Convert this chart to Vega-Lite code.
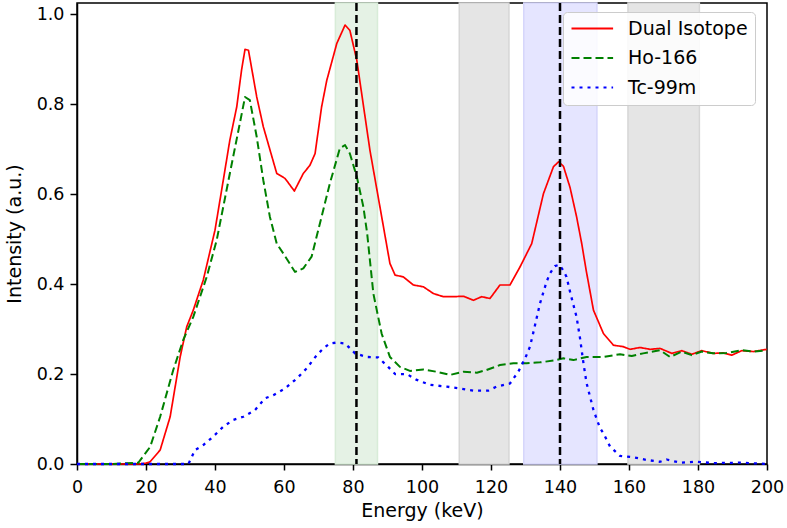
{
  "$schema": "https://vega.github.io/schema/vega-lite/v6.json",
  "width": 690,
  "height": 461,
  "autosize": {"type": "none"},
  "padding": {"left": 77, "top": 3, "right": 20, "bottom": 64},
  "background": "white",
  "config": {
    "font": "DejaVu Sans",
    "view": {"stroke": "black", "strokeWidth": 1.5},
    "axis": {
      "grid": false,
      "domainColor": "black",
      "domainWidth": 1.5,
      "tickColor": "black",
      "tickWidth": 1.5,
      "labelColor": "black",
      "titleColor": "black",
      "labelFontSize": 17.5,
      "titleFontSize": 19,
      "titleFontWeight": "normal"
    },
    "axisX": {"tickSize": 6, "labelPadding": 8, "labelFlush": false, "titlePadding": 6},
    "axisY": {"tickSize": 7, "labelPadding": 6, "titlePadding": 12}
  },
  "datasets": {
    "bands": [
      {"start": 74.9, "end": 87.1, "window": "Ho-166 photopeak"},
      {"start": 110.8, "end": 125.2, "window": "Scatter"},
      {"start": 129.5, "end": 150.7, "window": "Tc-99m photopeak"},
      {"start": 159.7, "end": 180.4, "window": "Scatter"}
    ],
    "markers": [{"energy": 81}, {"energy": 140}],
    "spectra": [
      {"series": "Dual Isotope", "energy": 0, "intensity": 0},
      {"series": "Dual Isotope", "energy": 10, "intensity": 0},
      {"series": "Dual Isotope", "energy": 18, "intensity": 0},
      {"series": "Dual Isotope", "energy": 20, "intensity": 0.002},
      {"series": "Dual Isotope", "energy": 21.2, "intensity": 0.005},
      {"series": "Dual Isotope", "energy": 24.1, "intensity": 0.031},
      {"series": "Dual Isotope", "energy": 27, "intensity": 0.105},
      {"series": "Dual Isotope", "energy": 29.9, "intensity": 0.238},
      {"series": "Dual Isotope", "energy": 31.8, "intensity": 0.305},
      {"series": "Dual Isotope", "energy": 33.7, "intensity": 0.342},
      {"series": "Dual Isotope", "energy": 36.6, "intensity": 0.409},
      {"series": "Dual Isotope", "energy": 40, "intensity": 0.52},
      {"series": "Dual Isotope", "energy": 42.4, "intensity": 0.631},
      {"series": "Dual Isotope", "energy": 44.3, "intensity": 0.72},
      {"series": "Dual Isotope", "energy": 46.3, "intensity": 0.794},
      {"series": "Dual Isotope", "energy": 47.7, "intensity": 0.876},
      {"series": "Dual Isotope", "energy": 48.7, "intensity": 0.922},
      {"series": "Dual Isotope", "energy": 49.7, "intensity": 0.92},
      {"series": "Dual Isotope", "energy": 52.1, "intensity": 0.816},
      {"series": "Dual Isotope", "energy": 54, "intensity": 0.75},
      {"series": "Dual Isotope", "energy": 57.9, "intensity": 0.646},
      {"series": "Dual Isotope", "energy": 60.3, "intensity": 0.635},
      {"series": "Dual Isotope", "energy": 63, "intensity": 0.607},
      {"series": "Dual Isotope", "energy": 65.6, "intensity": 0.646},
      {"series": "Dual Isotope", "energy": 67.5, "intensity": 0.664},
      {"series": "Dual Isotope", "energy": 69, "intensity": 0.69},
      {"series": "Dual Isotope", "energy": 70.9, "intensity": 0.794},
      {"series": "Dual Isotope", "energy": 72.4, "intensity": 0.853},
      {"series": "Dual Isotope", "energy": 75.3, "intensity": 0.935},
      {"series": "Dual Isotope", "energy": 77.7, "intensity": 0.976},
      {"series": "Dual Isotope", "energy": 79.1, "intensity": 0.964},
      {"series": "Dual Isotope", "energy": 81.1, "intensity": 0.898},
      {"series": "Dual Isotope", "energy": 84.9, "intensity": 0.698},
      {"series": "Dual Isotope", "energy": 87.8, "intensity": 0.572},
      {"series": "Dual Isotope", "energy": 90.7, "intensity": 0.446},
      {"series": "Dual Isotope", "energy": 92.2, "intensity": 0.42},
      {"series": "Dual Isotope", "energy": 94.6, "intensity": 0.416},
      {"series": "Dual Isotope", "energy": 97.5, "intensity": 0.398},
      {"series": "Dual Isotope", "energy": 100.4, "intensity": 0.394},
      {"series": "Dual Isotope", "energy": 103.3, "intensity": 0.379},
      {"series": "Dual Isotope", "energy": 106.2, "intensity": 0.372},
      {"series": "Dual Isotope", "energy": 109.1, "intensity": 0.372},
      {"series": "Dual Isotope", "energy": 112, "intensity": 0.373},
      {"series": "Dual Isotope", "energy": 114.9, "intensity": 0.364},
      {"series": "Dual Isotope", "energy": 117.3, "intensity": 0.372},
      {"series": "Dual Isotope", "energy": 119.7, "intensity": 0.368},
      {"series": "Dual Isotope", "energy": 122.6, "intensity": 0.398},
      {"series": "Dual Isotope", "energy": 125.5, "intensity": 0.398},
      {"series": "Dual Isotope", "energy": 128.4, "intensity": 0.438},
      {"series": "Dual Isotope", "energy": 131.8, "intensity": 0.49},
      {"series": "Dual Isotope", "energy": 135.2, "intensity": 0.601},
      {"series": "Dual Isotope", "energy": 138.1, "intensity": 0.661},
      {"series": "Dual Isotope", "energy": 139.6, "intensity": 0.672},
      {"series": "Dual Isotope", "energy": 141, "intensity": 0.662},
      {"series": "Dual Isotope", "energy": 142.9, "intensity": 0.615},
      {"series": "Dual Isotope", "energy": 144.8, "intensity": 0.55},
      {"series": "Dual Isotope", "energy": 146.3, "intensity": 0.49},
      {"series": "Dual Isotope", "energy": 147.6, "intensity": 0.43},
      {"series": "Dual Isotope", "energy": 149.7, "intensity": 0.342},
      {"series": "Dual Isotope", "energy": 152.6, "intensity": 0.29},
      {"series": "Dual Isotope", "energy": 155.5, "intensity": 0.264},
      {"series": "Dual Isotope", "energy": 158.3, "intensity": 0.261},
      {"series": "Dual Isotope", "energy": 160.3, "intensity": 0.255},
      {"series": "Dual Isotope", "energy": 163.2, "intensity": 0.259},
      {"series": "Dual Isotope", "energy": 166.1, "intensity": 0.255},
      {"series": "Dual Isotope", "energy": 169, "intensity": 0.257},
      {"series": "Dual Isotope", "energy": 172.4, "intensity": 0.246},
      {"series": "Dual Isotope", "energy": 175.3, "intensity": 0.252},
      {"series": "Dual Isotope", "energy": 178.2, "intensity": 0.244},
      {"series": "Dual Isotope", "energy": 181.1, "intensity": 0.252},
      {"series": "Dual Isotope", "energy": 184.4, "intensity": 0.246},
      {"series": "Dual Isotope", "energy": 187.3, "intensity": 0.247},
      {"series": "Dual Isotope", "energy": 189.8, "intensity": 0.242},
      {"series": "Dual Isotope", "energy": 192.7, "intensity": 0.252},
      {"series": "Dual Isotope", "energy": 196, "intensity": 0.25},
      {"series": "Dual Isotope", "energy": 200, "intensity": 0.255},

      {"series": "Ho-166", "energy": 0, "intensity": 0},
      {"series": "Ho-166", "energy": 10, "intensity": 0},
      {"series": "Ho-166", "energy": 17.8, "intensity": 0.003},
      {"series": "Ho-166", "energy": 21.2, "intensity": 0.038},
      {"series": "Ho-166", "energy": 24.1, "intensity": 0.105},
      {"series": "Ho-166", "energy": 27.9, "intensity": 0.209},
      {"series": "Ho-166", "energy": 30.8, "intensity": 0.276},
      {"series": "Ho-166", "energy": 33.7, "intensity": 0.327},
      {"series": "Ho-166", "energy": 37.6, "intensity": 0.416},
      {"series": "Ho-166", "energy": 40.5, "intensity": 0.498},
      {"series": "Ho-166", "energy": 44.3, "intensity": 0.646},
      {"series": "Ho-166", "energy": 46.8, "intensity": 0.742},
      {"series": "Ho-166", "energy": 48.7, "intensity": 0.816},
      {"series": "Ho-166", "energy": 50.1, "intensity": 0.809},
      {"series": "Ho-166", "energy": 52.1, "intensity": 0.727},
      {"series": "Ho-166", "energy": 54, "intensity": 0.631},
      {"series": "Ho-166", "energy": 55.9, "intensity": 0.55},
      {"series": "Ho-166", "energy": 57.9, "intensity": 0.49},
      {"series": "Ho-166", "energy": 59.8, "intensity": 0.468},
      {"series": "Ho-166", "energy": 63.2, "intensity": 0.427},
      {"series": "Ho-166", "energy": 65.6, "intensity": 0.435},
      {"series": "Ho-166", "energy": 68, "intensity": 0.461},
      {"series": "Ho-166", "energy": 70.9, "intensity": 0.55},
      {"series": "Ho-166", "energy": 73.3, "intensity": 0.624},
      {"series": "Ho-166", "energy": 76.2, "intensity": 0.702},
      {"series": "Ho-166", "energy": 77.7, "intensity": 0.709},
      {"series": "Ho-166", "energy": 79.1, "intensity": 0.69},
      {"series": "Ho-166", "energy": 81.1, "intensity": 0.639},
      {"series": "Ho-166", "energy": 83, "intensity": 0.572},
      {"series": "Ho-166", "energy": 84.1, "intensity": 0.513},
      {"series": "Ho-166", "energy": 85.9, "intensity": 0.379},
      {"series": "Ho-166", "energy": 88.3, "intensity": 0.29},
      {"series": "Ho-166", "energy": 90.7, "intensity": 0.238},
      {"series": "Ho-166", "energy": 93.6, "intensity": 0.216},
      {"series": "Ho-166", "energy": 96.5, "intensity": 0.207},
      {"series": "Ho-166", "energy": 100.4, "intensity": 0.21},
      {"series": "Ho-166", "energy": 104.3, "intensity": 0.205},
      {"series": "Ho-166", "energy": 108.1, "intensity": 0.198},
      {"series": "Ho-166", "energy": 112, "intensity": 0.205},
      {"series": "Ho-166", "energy": 115.9, "intensity": 0.203},
      {"series": "Ho-166", "energy": 118.7, "intensity": 0.209},
      {"series": "Ho-166", "energy": 122.6, "intensity": 0.22},
      {"series": "Ho-166", "energy": 126.5, "intensity": 0.224},
      {"series": "Ho-166", "energy": 130.3, "intensity": 0.224},
      {"series": "Ho-166", "energy": 134.2, "intensity": 0.226},
      {"series": "Ho-166", "energy": 138.1, "intensity": 0.23},
      {"series": "Ho-166", "energy": 141, "intensity": 0.235},
      {"series": "Ho-166", "energy": 143.9, "intensity": 0.231},
      {"series": "Ho-166", "energy": 147.7, "intensity": 0.238},
      {"series": "Ho-166", "energy": 152.6, "intensity": 0.238},
      {"series": "Ho-166", "energy": 157.4, "intensity": 0.244},
      {"series": "Ho-166", "energy": 160.8, "intensity": 0.24},
      {"series": "Ho-166", "energy": 164.1, "intensity": 0.246},
      {"series": "Ho-166", "energy": 169, "intensity": 0.253},
      {"series": "Ho-166", "energy": 171.9, "intensity": 0.238},
      {"series": "Ho-166", "energy": 175.3, "intensity": 0.25},
      {"series": "Ho-166", "energy": 178.2, "intensity": 0.242},
      {"series": "Ho-166", "energy": 181.1, "intensity": 0.25},
      {"series": "Ho-166", "energy": 184.4, "intensity": 0.246},
      {"series": "Ho-166", "energy": 188.3, "intensity": 0.247},
      {"series": "Ho-166", "energy": 192.7, "intensity": 0.253},
      {"series": "Ho-166", "energy": 196, "intensity": 0.25},
      {"series": "Ho-166", "energy": 200, "intensity": 0.253},

      {"series": "Tc-99m", "energy": 0, "intensity": 0},
      {"series": "Tc-99m", "energy": 32.3, "intensity": 0},
      {"series": "Tc-99m", "energy": 34.2, "intensity": 0.031},
      {"series": "Tc-99m", "energy": 36.6, "intensity": 0.042},
      {"series": "Tc-99m", "energy": 39.5, "intensity": 0.061},
      {"series": "Tc-99m", "energy": 42.4, "intensity": 0.083},
      {"series": "Tc-99m", "energy": 45.3, "intensity": 0.098},
      {"series": "Tc-99m", "energy": 48.2, "intensity": 0.105},
      {"series": "Tc-99m", "energy": 51.6, "intensity": 0.12},
      {"series": "Tc-99m", "energy": 54.5, "intensity": 0.146},
      {"series": "Tc-99m", "energy": 56.9, "intensity": 0.153},
      {"series": "Tc-99m", "energy": 60.3, "intensity": 0.168},
      {"series": "Tc-99m", "energy": 63.7, "intensity": 0.19},
      {"series": "Tc-99m", "energy": 66.6, "intensity": 0.213},
      {"series": "Tc-99m", "energy": 69.5, "intensity": 0.242},
      {"series": "Tc-99m", "energy": 71.4, "intensity": 0.257},
      {"series": "Tc-99m", "energy": 73.3, "intensity": 0.268},
      {"series": "Tc-99m", "energy": 75.3, "intensity": 0.27},
      {"series": "Tc-99m", "energy": 77.7, "intensity": 0.268},
      {"series": "Tc-99m", "energy": 80.6, "intensity": 0.246},
      {"series": "Tc-99m", "energy": 84, "intensity": 0.238},
      {"series": "Tc-99m", "energy": 87.3, "intensity": 0.237},
      {"series": "Tc-99m", "energy": 90.2, "intensity": 0.216},
      {"series": "Tc-99m", "energy": 92.2, "intensity": 0.2},
      {"series": "Tc-99m", "energy": 95.6, "intensity": 0.2},
      {"series": "Tc-99m", "energy": 98.5, "intensity": 0.187},
      {"series": "Tc-99m", "energy": 102.3, "intensity": 0.176},
      {"series": "Tc-99m", "energy": 107.2, "intensity": 0.172},
      {"series": "Tc-99m", "energy": 111, "intensity": 0.168},
      {"series": "Tc-99m", "energy": 114.9, "intensity": 0.163},
      {"series": "Tc-99m", "energy": 119.2, "intensity": 0.163},
      {"series": "Tc-99m", "energy": 121.6, "intensity": 0.172},
      {"series": "Tc-99m", "energy": 125.5, "intensity": 0.179},
      {"series": "Tc-99m", "energy": 127.9, "intensity": 0.205},
      {"series": "Tc-99m", "energy": 129.9, "intensity": 0.235},
      {"series": "Tc-99m", "energy": 131.3, "intensity": 0.261},
      {"series": "Tc-99m", "energy": 132.5, "intensity": 0.3},
      {"series": "Tc-99m", "energy": 134.2, "intensity": 0.357},
      {"series": "Tc-99m", "energy": 136.1, "intensity": 0.405},
      {"series": "Tc-99m", "energy": 137.1, "intensity": 0.424},
      {"series": "Tc-99m", "energy": 138.5, "intensity": 0.44},
      {"series": "Tc-99m", "energy": 139.8, "intensity": 0.443},
      {"series": "Tc-99m", "energy": 141, "intensity": 0.43},
      {"series": "Tc-99m", "energy": 141.9, "intensity": 0.416},
      {"series": "Tc-99m", "energy": 143, "intensity": 0.38},
      {"series": "Tc-99m", "energy": 144.8, "intensity": 0.327},
      {"series": "Tc-99m", "energy": 145.8, "intensity": 0.28},
      {"series": "Tc-99m", "energy": 146.8, "intensity": 0.224},
      {"series": "Tc-99m", "energy": 147.7, "intensity": 0.18},
      {"series": "Tc-99m", "energy": 149.7, "intensity": 0.12},
      {"series": "Tc-99m", "energy": 151.6, "intensity": 0.08},
      {"series": "Tc-99m", "energy": 152.6, "intensity": 0.068},
      {"series": "Tc-99m", "energy": 154.5, "intensity": 0.039},
      {"series": "Tc-99m", "energy": 157.4, "intensity": 0.018},
      {"series": "Tc-99m", "energy": 161.2, "intensity": 0.015},
      {"series": "Tc-99m", "energy": 165.1, "intensity": 0.009},
      {"series": "Tc-99m", "energy": 169, "intensity": 0.005},
      {"series": "Tc-99m", "energy": 170.9, "intensity": 0.01},
      {"series": "Tc-99m", "energy": 174.8, "intensity": 0.003},
      {"series": "Tc-99m", "energy": 179.6, "intensity": 0.005},
      {"series": "Tc-99m", "energy": 184.4, "intensity": 0.002},
      {"series": "Tc-99m", "energy": 192.7, "intensity": 0.003},
      {"series": "Tc-99m", "energy": 200, "intensity": 0}
    ]
  },
  "layer": [
    {
      "data": {"name": "bands"},
      "mark": {"type": "rect", "strokeWidth": 1.5},
      "encoding": {
        "x": {"field": "start", "type": "quantitative", "scale": {"domain": [0, 200]}, "axis": {"title": "Energy (keV)", "values": [0, 20, 40, 60, 80, 100, 120, 140, 160, 180, 200]}},
        "x2": {"field": "end"},
        "color": {
          "field": "window",
          "type": "nominal",
          "scale": {"domain": ["Ho-166 photopeak", "Scatter", "Tc-99m photopeak"], "range": ["#e5f2e5", "#e5e5e5", "#e5e5ff"]},
          "legend": null
        },
        "stroke": {
          "field": "window",
          "type": "nominal",
          "scale": {"domain": ["Ho-166 photopeak", "Scatter", "Tc-99m photopeak"], "range": ["#d8ecd8", "#d6d6d6", "#d6d6fb"]},
          "legend": null
        }
      }
    },
    {
      "data": {"name": "spectra"},
      "mark": {"type": "line", "strokeCap": "butt", "strokeJoin": "round"},
      "encoding": {
        "x": {"field": "energy", "type": "quantitative", "scale": {"domain": [0, 200]}, "axis": {"title": "Energy (keV)", "values": [0, 20, 40, 60, 80, 100, 120, 140, 160, 180, 200]}},
        "y": {"field": "intensity", "type": "quantitative", "scale": {"domain": [0, 1.025], "nice": false}, "axis": {"title": "Intensity (a.u.)", "values": [0, 0.2, 0.4, 0.6, 0.8, 1.0], "format": ".1f"}},
        "color": {
          "field": "series",
          "type": "nominal",
          "scale": {"domain": ["Dual Isotope", "Ho-166", "Tc-99m"], "range": ["#ff0000", "#008000", "#0000ff"]},
          "legend": {
            "title": null,
            "orient": "none",
            "legendX": 486,
            "legendY": 9,
            "symbolType": "M-1,0H4.2",
            "symbolSize": 256,
            "symbolStrokeWidth": 2.2,
            "labelFontSize": 19,
            "labelColor": "black",
            "labelOffset": 39,
            "fillColor": "rgba(255,255,255,0.85)",
            "strokeColor": "#cccccc",
            "cornerRadius": 4,
            "padding": 7,
            "rowPadding": 9.5,
            "encode": {
              "symbols": {
                "update": {
                  "strokeDash": {"scale": "strokeDash", "field": "value"}
                }
              }
            }
          }
        },
        "strokeDash": {
          "field": "series",
          "type": "nominal",
          "scale": {"domain": ["Dual Isotope", "Ho-166", "Tc-99m"], "range": [[1, 0], [8, 4], [3, 5]]},
          "legend": null
        },
        "strokeWidth": {
          "field": "series",
          "type": "ordinal",
          "scale": {"domain": ["Dual Isotope", "Ho-166", "Tc-99m"], "range": [1.7, 2.3, 3]},
          "legend": null
        }
      }
    },
    {
      "data": {"name": "markers"},
      "mark": {"type": "rule", "color": "black", "strokeDash": [8, 4], "strokeWidth": 2.5},
      "encoding": {
        "x": {"field": "energy", "type": "quantitative", "axis": {"title": "Energy (keV)", "values": [0, 20, 40, 60, 80, 100, 120, 140, 160, 180, 200]}}
      }
    }
  ],
  "resolve": {"scale": {"color": "independent"}}
}
